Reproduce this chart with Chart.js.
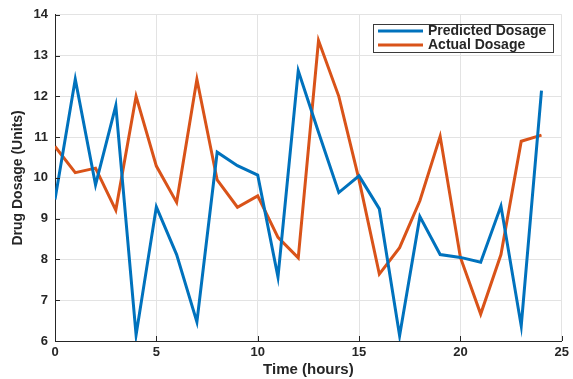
<!DOCTYPE html>
<html>
<head>
<meta charset="utf-8">
<script src="https://cdn.jsdelivr.net/npm/chart.js@4.4.1/dist/chart.umd.min.js"></script>
<style>
html,body{margin:0;padding:0;background:#fff;}
#wrap{width:573px;height:379px;position:relative;}
</style>
</head>
<body>
<div id="wrap"><canvas id="c" width="573" height="379"></canvas></div>
<script>
const hours = [0,1,2,3,4,5,6,7,8,9,10,11,12,13,14,15,16,17,18,19,20,21,22,23,24];
const predictedDosage = [9.47,12.42,9.83,11.77,6.15,9.29,8.12,6.47,10.63,10.3,10.07,7.57,12.63,11.12,9.64,10.05,9.24,6.13,9.05,8.12,8.05,7.93,9.31,6.37,12.14];
const actualDosage = [10.77,10.13,10.24,9.21,12.0,10.29,9.4,12.42,9.95,9.28,9.56,8.54,8.04,13.37,12.0,9.95,7.64,8.29,9.44,11.02,8.05,6.66,8.12,10.9,11.05];
const seriesLabels = ['Predicted Dosage','Actual Dosage'];
const xTicks = [0,5,10,15,20,25];
const yTicks = [6,7,8,9,10,11,12,13,14];

const FONT = '"Liberation Sans", Arial, sans-serif';
const DARK = '#262626';

const toPts = (xs, ys) => xs.map((x,i)=>({x:x, y:ys[i]}));

const inwardTicks = {
  id:'inwardTicks',
  afterDatasetsDraw(chart){
    const ctx = chart.ctx, a = chart.chartArea;
    const xs = chart.scales.x, ys = chart.scales.y;
    ctx.save();
    ctx.strokeStyle = DARK; ctx.lineWidth = 1;
    ctx.beginPath();
    xTicks.forEach(v=>{const p=Math.round(xs.getPixelForValue(v))+0.5; ctx.moveTo(p,a.bottom); ctx.lineTo(p,a.bottom-5);});
    yTicks.forEach(v=>{const p=Math.round(ys.getPixelForValue(v))+0.5; ctx.moveTo(a.left,p); ctx.lineTo(a.left+5,p);});
    ctx.stroke();
    ctx.restore();
  }
};

const boxLegend = {
  id:'boxLegend',
  afterDraw(chart){
    const ctx = chart.ctx;
    const x0 = 373, y0 = 24, w = 180, h = 28;
    ctx.save();
    ctx.fillStyle = '#fff';
    ctx.fillRect(x0,y0,w,h);
    ctx.strokeStyle = '#3a3a3a'; ctx.lineWidth = 1;
    ctx.strokeRect(x0+0.5,y0+0.5,w,h);
    ctx.font = 'bold 14px ' + FONT;
    ctx.textBaseline = 'middle';
    chart.data.datasets.forEach((ds,i)=>{
      const yy = y0 + 7 + i*14;
      ctx.strokeStyle = ds.borderColor; ctx.lineWidth = 3;
      ctx.beginPath(); ctx.moveTo(x0+5,yy); ctx.lineTo(x0+50,yy); ctx.stroke();
      ctx.fillStyle = DARK;
      ctx.fillText(ds.label, x0+55, yy+0.5);
    });
    ctx.restore();
  }
};

new Chart(document.getElementById('c'), {
  type:'line',
  data:{
    datasets:[
      {label:seriesLabels[0], data:toPts(hours,predictedDosage), borderColor:'#0072BD', backgroundColor:'#0072BD', borderWidth:3, pointRadius:0, tension:0, fill:false},
      {label:seriesLabels[1], data:toPts(hours,actualDosage), borderColor:'#D95319', backgroundColor:'#D95319', borderWidth:3, pointRadius:0, tension:0, fill:false}
    ]
  },
  options:{
    responsive:false,
    animation:false,
    layout:{padding:{top:13,right:9,left:0,bottom:0}},
    plugins:{legend:{display:false}, title:{display:false}, tooltip:{enabled:false}},
    scales:{
      x:{
        type:'linear', min:0, max:25,
        afterBuildTicks(s){ s.ticks = xTicks.map(v=>({value:v})); },
        afterFit(s){ s.height = 38; },
        grid:{color:'#e3e3e3', drawTicks:false},
        border:{color:DARK, width:1},
        ticks:{color:DARK, font:{family:FONT, size:13, weight:'bold'}, padding:4},
        title:{display:true, text:'Time (hours)', color:DARK, font:{family:FONT, size:15, weight:'bold'}, padding:{top:0,bottom:0}}
      },
      y:{
        type:'linear', min:6, max:14,
        afterBuildTicks(s){ s.ticks = yTicks.map(v=>({value:v})); },
        afterFit(s){ s.width = 55; },
        grid:{color:'#e3e3e3', drawTicks:false},
        border:{color:DARK, width:1},
        ticks:{color:DARK, font:{family:FONT, size:13, weight:'bold'}, padding:7},
        title:{display:true, text:'Drug Dosage (Units)', color:DARK, font:{family:FONT, size:14, weight:'bold'}, padding:{top:10,bottom:0}}
      }
    }
  },
  plugins:[inwardTicks, boxLegend]
});
</script>
</body>
</html>
